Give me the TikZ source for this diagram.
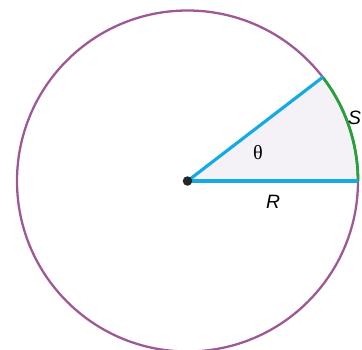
\documentclass[tikz,border=0pt]{standalone}
\usepackage{fontspec}
\setsansfont{Liberation Sans}
\newfontfamily\greekserif{Liberation Serif}
\usepackage{tikz}
\usepackage{xcolor}

\definecolor{rim}{RGB}{158,88,150}
\definecolor{ray}{RGB}{20,170,230}
\definecolor{arcgreen}{RGB}{40,160,60}
\definecolor{wedge}{RGB}{245,242,247}

\begin{document}
\begin{tikzpicture}[x=0.02cm, y=0.02cm]
        \clip (-187.5,-168) rectangle (174.5,181);

        \coordinate (o) at (0,0);
        \coordinate (a) at (0:170.5);
        \coordinate (b) at (37.5:170.5);

        \fill[wedge] (o) -- (a) arc (0:37.5:170.5) -- cycle;
        \draw[rim, line width=1.3pt] (o) circle (170.5);
        \draw[arcgreen, line width=1.6pt] (a) arc (0:37.5:170.5);

        \draw[ray, line width=1.8pt] (o) -- (a);
        \draw[ray, line width=1.8pt] (o) -- (b);
        \node (dot) at (o) [circle, fill=black!85, inner sep=0pt, minimum size=0.19cm] {};

        \node (theta) at ( 70.5, 28.0) {\greekserif\fontsize{11.5}{13}\selectfont θ};
        \node (rlab)  at ( 85.5,-21.0) {\sffamily\itshape\fontsize{11}{13}\selectfont R};
        \node (slab)  at (167.0, 63.0) {\sffamily\itshape\fontsize{11}{13}\selectfont S};
    \end{tikzpicture}
\end{document}
